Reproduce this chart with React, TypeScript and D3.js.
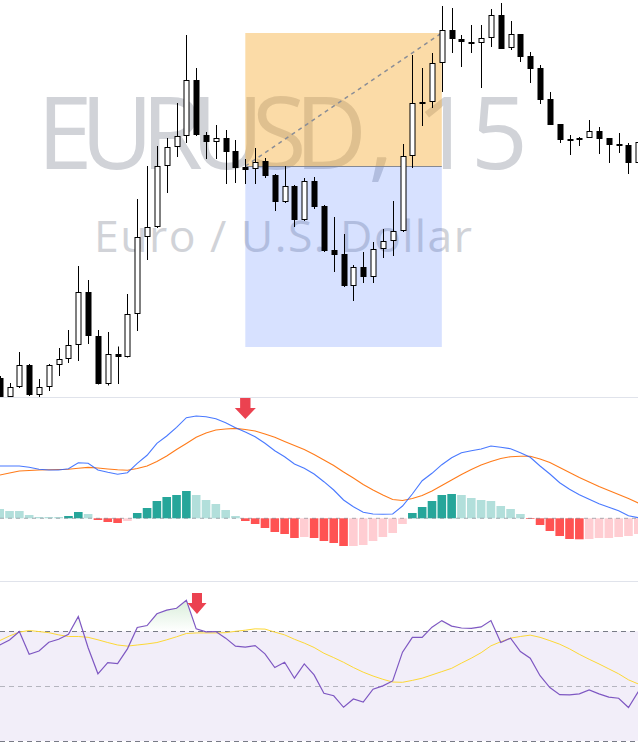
import React from 'react';
import * as d3 from 'd3';

const W = 638;
const H = 749;

// ---- Price data (EURUSD, 15m) ----
const opens = [
  1.08622, 1.08603, 1.08613, 1.08635, 1.086055, 1.08613, 1.08635, 1.086415, 1.08655, 1.08708,
  1.08664, 1.08616, 1.08646, 1.086435, 1.08686, 1.08763, 1.08773, 1.08834, 1.08853, 1.08864,
  1.0892, 1.08865, 1.08858, 1.08862, 1.08849, 1.08833, 1.08831, 1.08839, 1.08825, 1.08798,
  1.08814, 1.0878, 1.08819, 1.08794, 1.0875, 1.08746, 1.08714, 1.08733, 1.08723, 1.08751,
  1.08759, 1.08769, 1.08844, 1.08898, 1.08898, 1.08937, 1.0897, 1.08961, 1.08958, 1.08957,
  1.08962, 1.08985, 1.08952, 1.08966, 1.08944, 1.08932, 1.08901, 1.08876, 1.08861, 1.0886,
  1.08862, 1.08869, 1.08862, 1.08856, 1.08855, 1.08837,
];
const highs = [
  1.08624, 1.08617, 1.08648, 1.08636, 1.08621, 1.08636, 1.08652, 1.0867, 1.08734, 1.0872,
  1.0867, 1.08668, 1.086535, 1.08706, 1.08801, 1.08834, 1.08854, 1.08862, 1.08897, 1.08965,
  1.08932, 1.08868, 1.08875, 1.0887, 1.0886, 1.08841, 1.08852, 1.08842, 1.08826, 1.08834,
  1.08815, 1.08822, 1.08823, 1.08795, 1.08783, 1.08766, 1.08735, 1.08748, 1.08758, 1.08771,
  1.08799, 1.08856, 1.08945, 1.08932, 1.08947, 1.08994, 1.08992, 1.08965, 1.08975, 1.08975,
  1.08991, 1.08997, 1.08979, 1.08966, 1.08948, 1.08935, 1.08908, 1.08876, 1.08865, 1.08863,
  1.0888, 1.08873, 1.08862, 1.08867, 1.08857, 1.0886,
];
const lows = [
  1.08597, 1.08602, 1.08612, 1.08604, 1.08603, 1.08609, 1.08624, 1.08637, 1.08639, 1.08656,
  1.086155, 1.086145, 1.08616, 1.086425, 1.08669, 1.0874, 1.08772, 1.08807, 1.08843, 1.08857,
  1.08864, 1.08841, 1.08841, 1.08816, 1.08817, 1.08816, 1.08816, 1.08822, 1.08789, 1.08797,
  1.08773, 1.08779, 1.08791, 1.08748, 1.08728, 1.08713, 1.08699, 1.08717, 1.08717, 1.08742,
  1.08744, 1.08768, 1.08832, 1.08874, 1.08892, 1.08908, 1.08947, 1.08933, 1.08947, 1.08912,
  1.08953, 1.08951, 1.0895, 1.08938, 1.08917, 1.08896, 1.08875, 1.08857, 1.08845, 1.08854,
  1.08862, 1.08846, 1.08837, 1.08847, 1.08826, 1.08836,
];
const closes = [
  1.086, 1.08613, 1.08635, 1.08605, 1.08613, 1.08635, 1.086415, 1.08655, 1.08708, 1.08664,
  1.08616, 1.08646, 1.086435, 1.08686, 1.08763, 1.08773, 1.08834, 1.08853, 1.08864, 1.0892,
  1.08865, 1.08858, 1.08862, 1.08848, 1.08832, 1.088305, 1.08838, 1.08824, 1.08798, 1.08814,
  1.0878, 1.08819, 1.08793, 1.08749, 1.08745, 1.08714, 1.08733, 1.08723, 1.08751, 1.08759,
  1.08769, 1.08844, 1.08897, 1.08898, 1.08937, 1.0897, 1.08961, 1.08958, 1.08958, 1.08962,
  1.08985, 1.08951, 1.08966, 1.08943, 1.08931, 1.089, 1.08875, 1.0886, 1.08859, 1.08862,
  1.08869, 1.08861, 1.08855, 1.08854, 1.08837, 1.08858,
];

// ---- Long position tool ----
const positionStartIndex = 25;
const positionEndIndex = 45;
const entryPrice = 1.08834;
const targetPrice = 1.08967;
const stopPrice = 1.08653;

// ---- MACD (points) ----
const macdLine = [
  52.3, 52.3, 52.3, 51, 49, 48.3, 48.3, 49.6, 55.6, 55,
  48.3, 46, 44, 45.6, 55, 63, 75, 82.3, 91, 100.6,
  102.3, 101.6, 99.6, 95.6, 90.6, 86.3, 81.6, 75, 67.6, 61.6,
  54.3, 50, 44.3, 36.6, 28.3, 18.3, 11.6, 6, 4.3, 4,
  4.3, 12.3, 24.3, 37.6, 45, 53.6, 60.6, 65.6, 67.6, 69.3,
  72.3, 71, 69.6, 65.6, 61, 52.3, 44.3, 35.6, 29, 23.6,
  19, 14.6, 11, 7.6, 2.6, 0.6,
];
const signalLine = [
  43.3, 45.3, 47.3, 47.8, 48.3, 48.5, 48.8, 49.1, 50, 50.9,
  50.3, 49.3, 48.5, 48.1, 49.8, 52.3, 56.8, 62.3, 68.8, 74.8,
  81, 85.3, 88.3, 89.3, 89.9, 88.8, 87.3, 84.3, 81, 76.8,
  72.8, 68.8, 63.8, 58.3, 52.8, 46.3, 40.3, 33.8, 28.3, 23.3,
  18.8, 17.8, 19.8, 22.8, 27.3, 32.8, 38.3, 43.8, 48.8, 53.3,
  56.8, 59.8, 61.6, 62.1, 62, 59.3, 55.8, 50.8, 45.8, 40.8,
  36.3, 31.8, 27.8, 23.8, 19.8, 15.3,
];
const histogram = [
  9.3, 7.3, 7.3, 3.3, 1.3, 1.3, 1.3, 2.3, 6.3, 4.3,
  -1.7, -3.7, -4.7, -2.7, 5.3, 10.3, 17.3, 21.3, 23.3, 27.3,
  23.3, 18.3, 14.3, 8.3, 2.3, -2.7, -5.7, -9.7, -13.7, -15.7,
  -19.7, -18.7, -19.7, -22.7, -24.7, -27.7, -27.7, -26.7, -22.7, -18.7,
  -14.7, -5.7, 5.3, 11.3, 17.3, 23.3, 24.3, 23.3, 20.3, 18.3,
  17.3, 12.3, 9.3, 4.3, -0.7, -6.7, -12.7, -17.7, -20.7, -21.0,
  -20.7, -19.7, -19.7, -18.7, -17.7, -15.7,
];

// ---- RSI ----
const rsi = [
  65.0, 66.8, 69.9, 61.6, 62.8, 66.0, 67.1, 68.9, 75.4, 64.0,
  54.5, 58.6, 58.2, 63.6, 71.4, 72.1, 76.4, 77.7, 78.4, 81.3,
  70.9, 69.8, 69.9, 67.5, 64.6, 64.2, 64.8, 61.8, 56.8, 58.7,
  52.9, 58.1, 54.1, 47.4, 46.5, 42.3, 45.3, 44.2, 48.9, 50.1,
  51.9, 62.4, 67.8, 67.8, 71.5, 73.9, 71.9, 71.2, 71.1, 71.6,
  73.9, 65.9, 67.5, 62.6, 60.2, 53.8, 49.5, 46.9, 46.8, 47.2,
  48.6, 47.2, 46.0, 45.6, 42.2, 48.0,
];
const rsiMa = [
  66.6, 68.3, 69.7, 70.3, 69.9, 69.5, 68.7, 68.1, 68.1, 67.8,
  66.9, 65.9, 65.0, 64.6, 65.0, 65.4, 65.9, 66.9, 68.0, 69.2,
  69.4, 69.4, 69.4, 69.5, 70.0, 70.4, 70.9, 70.8, 69.7, 68.7,
  67.1, 65.7, 64.1, 62.0, 60.4, 58.7, 56.8, 55.1, 53.7, 52.5,
  51.5, 51.4, 52.1, 52.9, 54.1, 55.3, 56.5, 58.4, 60.2, 62.2,
  64.7, 66.2, 67.5, 68.1, 68.6, 67.8, 66.6, 65.3, 63.6, 61.6,
  59.8, 58.1, 56.3, 54.5, 52.3, 50.8,
];
const rsiLevels = [70, 50, 30];

// ---- signal arrows ----
const macdArrow = { index: 25, tipValue: 99.3 };
const rsiArrow = { index: 20, tipValue: 76.3 };

const watermarkSymbol = 'EURUSD';
const watermarkInterval = ', 15';
const watermarkSubtitle = 'Euro / U.S. Dollar';

export default function App() {
  const n = closes.length;
  const x = d3.scaleLinear().domain([0, n - 1]).range([-0.3, 638.3]);
  const yP = d3.scaleLinear().domain([1.08, 1.09]).range([1000, 0]);
  const yM = d3.scaleLinear().domain([0, 100]).range([518.3, 418.3]);
  const yR = d3.scaleLinear().domain([30, 70]).range([741, 631.3]);

  const idx = d3.range(n);

  const macdPath = d3.line<number>().x((_, i) => x(i)).y((d) => yM(d))(macdLine) || '';
  const signalPath = d3.line<number>().x((_, i) => x(i)).y((d) => yM(d))(signalLine) || '';
  const rsiPath = d3.line<number>().x((_, i) => x(i)).y((d) => yR(d))(rsi) || '';
  const rsiMaPath = d3.line<number>().x((_, i) => x(i)).y((d) => yR(d))(rsiMa) || '';
  const obArea =
    d3.area<number>().x((_, i) => x(i)).y0(yR(70)).y1((d) => yR(d))(rsi) || '';

  const histColor = (i: number) => {
    const h = histogram[i];
    const prev = i > 0 ? histogram[i - 1] : Infinity;
    if (h >= 0) return h > prev ? '#26a69a' : '#b2dfdb';
    return h < prev ? '#ff5252' : '#ffcdd2';
  };

  const arrowPath = (cx: number, tipY: number, shaftTop: number, headH: number, headHW: number, shaftHW: number) => {
    const headTop = tipY - headH;
    return `M${cx - shaftHW},${shaftTop} L${cx + shaftHW},${shaftTop} L${cx + shaftHW},${headTop} L${cx + headHW},${headTop} L${cx},${tipY} L${cx - headHW},${headTop} L${cx - shaftHW},${headTop} Z`;
  };

  const xs = x(positionStartIndex);
  const xe = x(positionEndIndex);

  return (
    <svg
      width={W}
      height={H}
      style={{ position: 'absolute', left: 0, top: 0, display: 'block', background: '#ffffff' }}
      fontFamily="'Open Sans', 'Noto Sans', sans-serif"
    >
      <defs>
        <clipPath id="pricePane">
          <rect x={0} y={0} width={W} height={397} />
        </clipPath>
        <clipPath id="obClip">
          <rect x={0} y={582} width={W} height={yR(70) - 582} />
        </clipPath>
        <linearGradient id="obGrad" gradientUnits="userSpaceOnUse" x1={0} x2={0} y1={yR(85)} y2={yR(70)}>
          <stop offset="0" stopColor="rgb(76,175,80)" stopOpacity={0.28} />
          <stop offset="1" stopColor="rgb(76,175,80)" stopOpacity={0} />
        </linearGradient>
      </defs>
      <rect x={0} y={0} width={W} height={H} fill="#ffffff" />

      {/* ---------- Price pane ---------- */}
      <g clipPath="url(#pricePane)">
        <text x={37} y={169} textAnchor="start" fontSize={100} fill="#d1d3d8" textLength={330}>
          {watermarkSymbol}
        </text>
        <text x={368} y={169} textAnchor="start" fontSize={100} fill="#d1d3d8" textLength={160}>
          {watermarkInterval}
        </text>
        <text x={283} y={252} textAnchor="middle" fontSize={44.5} fill="#d1d3d8" textLength={378}>
          {watermarkSubtitle}
        </text>

        {/* position tool */}
        <rect x={xs} y={yP(targetPrice)} width={xe - xs} height={yP(entryPrice) - yP(targetPrice)} fill="rgba(245,166,35,0.4)" />
        <rect x={xs} y={yP(entryPrice)} width={xe - xs} height={yP(stopPrice) - yP(entryPrice)} fill="rgba(41,98,255,0.19)" />
        <line x1={xs} x2={xe} y1={Math.round(yP(entryPrice)) + 0.5} y2={Math.round(yP(entryPrice)) + 0.5} stroke="#868993" strokeWidth={1} />
        <line x1={xs} y1={yP(entryPrice)} x2={xe} y2={yP(targetPrice)} stroke="#8a8d96" strokeWidth={1.5} strokeDasharray="4 4" />

        {/* candles */}
        {idx.map((i) => {
          const o = opens[i], c = closes[i], h = highs[i], l = lows[i];
          const cx = Math.round(x(i)) + 0.5;
          const up = c > o;
          const top = Math.round(yP(Math.max(o, c)));
          const bot = Math.round(yP(Math.min(o, c)));
          const bh = Math.max(1, bot - top);
          return (
            <g key={i}>
              <line x1={cx} x2={cx} y1={yP(h)} y2={yP(l)} stroke="#000" strokeWidth={1} />
              <rect
                x={cx - 2.5}
                y={top + 0.5}
                width={5}
                height={bh - (bh > 1 ? 1 : 0)}
                fill={up ? '#ffffff' : '#000000'}
                stroke="#000"
                strokeWidth={1}
              />
            </g>
          );
        })}
      </g>

      {/* separators */}
      <line x1={0} x2={W} y1={397.5} y2={397.5} stroke="#e0e3eb" strokeWidth={1} />
      <line x1={0} x2={W} y1={581.5} y2={581.5} stroke="#e0e3eb" strokeWidth={1} />

      {/* ---------- MACD pane ---------- */}
      <g>
        {idx.map((i) => {
          const h = histogram[i];
          const y0 = yM(0);
          const y1 = yM(h);
          return (
            <rect
              key={i}
              x={x(i) - 4.3}
              y={Math.min(y0, y1)}
              width={8.6}
              height={Math.abs(y1 - y0)}
              fill={histColor(i)}
            />
          );
        })}
        <line x1={0} x2={W} y1={yM(0)} y2={yM(0)} stroke="rgba(120,123,134,0.6)" strokeWidth={1} strokeDasharray="4 4" />
        <path d={signalPath} fill="none" stroke="#ff6d00" strokeWidth={1.1} opacity={0.9} />
        <path d={macdPath} fill="none" stroke="#2962ff" strokeWidth={1.1} opacity={0.85} />
        <path
          d={arrowPath(x(macdArrow.index), yM(macdArrow.tipValue), 398, 11, 10.5, 5.2)}
          fill="#eb4250"
        />
      </g>

      {/* ---------- RSI pane ---------- */}
      <g>
        <rect x={0} y={yR(70)} width={W} height={yR(30) - yR(70)} fill="rgba(126,87,194,0.1)" />
        <path d={obArea} fill="url(#obGrad)" clipPath="url(#obClip)" />
        {rsiLevels.map((lv) => (
          <line
            key={lv}
            x1={0}
            x2={W}
            y1={Math.round(yR(lv)) + 0.5}
            y2={Math.round(yR(lv)) + 0.5}
            stroke={lv === 50 ? 'rgba(120,123,134,0.5)' : '#787b86'}
            strokeWidth={1}
            strokeDasharray="5 4"
          />
        ))}
        <path d={rsiMaPath} fill="none" stroke="#fdd835" strokeWidth={1} />
        <path d={rsiPath} fill="none" stroke="#7e57c2" strokeWidth={1.2} />
        <path
          d={arrowPath(x(rsiArrow.index) + 0.8, yR(rsiArrow.tipValue), 593, 11, 9.5, 5)}
          fill="#eb4250"
        />
      </g>
    </svg>
  );
}
